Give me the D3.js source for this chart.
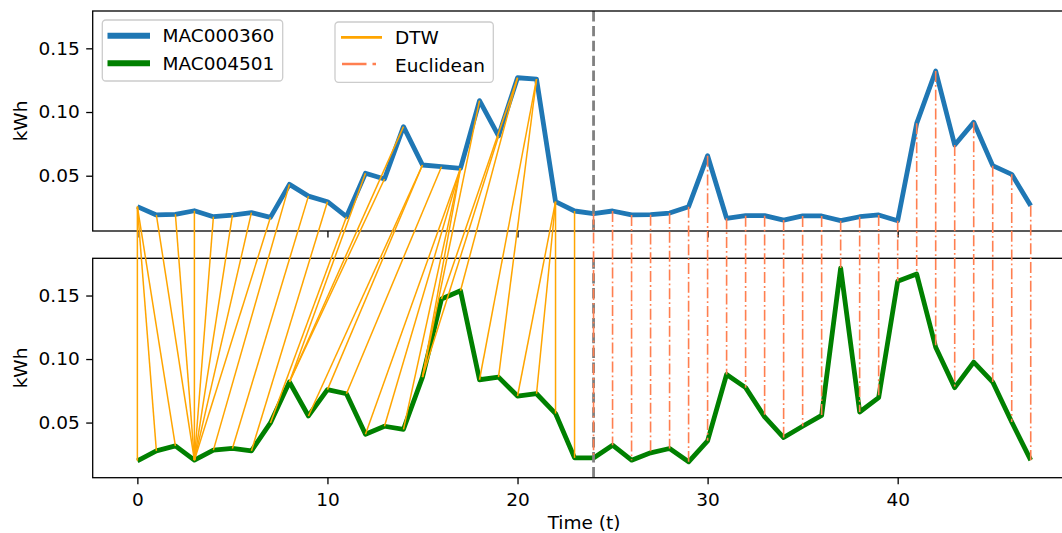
<!DOCTYPE html>
<html>
<head>
<meta charset="utf-8">
<script src="https://cdn.jsdelivr.net/npm/d3@7"></script>
<style>
  html, body { margin: 0; padding: 0; background: #fff; }
  svg { display: block; font-family: "DejaVu Sans", sans-serif; }
</style>
</head>
<body>
<svg id="chart" width="1062" height="533"></svg>
<script>
// ---- data ----
const timeIdx = [0,1,2,3,4,5,6,7,8,9,10,11,12,13,14,15,16,17,18,19,20,21,22,23,
                 24,25,26,27,28,29,30,31,32,33,34,35,36,37,38,39,40,41,42,43,44,45,46,47];
const seriesA = [0.0257,0.0192,0.0197,0.0225,0.0178,0.0190,0.0210,0.0173,0.0432,0.0340,
                 0.0296,0.0178,0.0519,0.0474,0.0885,0.0584,0.0571,0.0558,0.1089,0.0812,
                 0.1269,0.1259,0.0296,0.0223,0.0202,0.0223,0.0192,0.0194,0.0207,0.0257,
                 0.0657,0.0166,0.0186,0.0186,0.0152,0.0184,0.0184,0.0147,0.0178,0.0192,
                 0.0147,0.0911,0.1322,0.0741,0.0919,0.0579,0.0511,0.0265];
const seriesB = [0.0199,0.0277,0.0316,0.0204,0.0283,0.0296,0.0277,0.0497,0.0819,0.0552,
                 0.0759,0.0727,0.0408,0.0471,0.0447,0.0858,0.1473,0.1538,0.0837,0.0858,
                 0.0709,0.0727,0.0571,0.0222,0.0222,0.0322,0.0204,0.0262,0.0296,0.0191,
                 0.0356,0.0879,0.0775,0.0544,0.0382,0.0471,0.0557,0.1716,0.0583,0.0696,
                 0.1612,0.1669,0.1093,0.0775,0.0976,0.0819,0.0505,0.0204];
const nameA = "MAC000360";
const nameB = "MAC004501";
// DTW warping path (index in A, index in B) for the first 24 points
const dtwA = [0,0,0,1,2,3,4,5,6,7,8,9,10,11,12,13,14,15,15,16,17,17,17,17,18,19,20,20,21,21,22,22,22,23];
const dtwB = [0,1,2,3,3,3,3,3,3,3,4,5,6,7,8,8,8,9,10,11,12,13,14,15,15,15,16,17,18,19,20,21,22,23];
// Euclidean (one-to-one) matches after the split
const eucIdx = [24,25,26,27,28,29,30,31,32,33,34,35,36,37,38,39,40,41,42,43,44,45,46,47];
const splitT = 24;
const xTicks = [0,10,20,30,40];
const yTicks = [0.05,0.10,0.15];
const xLabel = "Time (t)";
const yLabel = "kWh";
const legendSeries = [nameA, nameB];
const legendMethods = ["DTW", "Euclidean"];

// ---- layout ----
const svg = d3.select("#chart");
const L = 92.7, R = 1075.4;
const topAx = {t: 11, b: 231};
const botAx = {t: 258.3, b: 477.7};
const FONT = 18.5;

const x = d3.scaleLinear().domain([-2.35, 49.35]).range([L, R]);
const yDom = [0.0066, 0.1793];
const yA = d3.scaleLinear().domain(yDom).range([topAx.b, topAx.t]);
const yB = d3.scaleLinear().domain(yDom).range([botAx.b, botAx.t]);

const blue = "#1f77b4", green = "#008000", orange = "#ffa500", coral = "#ff7f50";

function styleAxis(g) {
  g.select(".domain").remove();
  g.selectAll(".tick line").attr("stroke", "#000").attr("stroke-width", 1.3);
  g.selectAll(".tick text").attr("fill", "#000").attr("font-size", FONT)
    .attr("font-family", "DejaVu Sans, sans-serif");
}

// ---- top axes ----
const line = (ys, data) => d3.line().x((d, i) => x(timeIdx[i])).y(d => ys(d))(data);

svg.append("path").attr("d", line(yA, seriesA)).attr("fill", "none")
  .attr("stroke", blue).attr("stroke-width", 4.8).attr("stroke-linejoin", "round");
svg.append("line").attr("x1", x(splitT)).attr("x2", x(splitT))
  .attr("y1", topAx.t).attr("y2", topAx.b)
  .attr("stroke", "#808080").attr("stroke-width", 2.8).attr("stroke-dasharray", "10.4,4.5");

// ---- bottom axes ----
svg.append("path").attr("d", line(yB, seriesB)).attr("fill", "none")
  .attr("stroke", green).attr("stroke-width", 4.8).attr("stroke-linejoin", "round");
svg.append("line").attr("x1", x(splitT)).attr("x2", x(splitT))
  .attr("y1", botAx.t).attr("y2", botAx.b)
  .attr("stroke", "#808080").attr("stroke-width", 2.8).attr("stroke-dasharray", "10.4,4.5");

// spines
[topAx, botAx].forEach(a => {
  svg.append("rect").attr("x", L).attr("y", a.t).attr("width", R - L).attr("height", a.b - a.t)
    .attr("fill", "none").attr("stroke", "#000").attr("stroke-width", 1.3);
});

// axes ticks
svg.append("g").attr("transform", `translate(${L},0)`)
  .call(d3.axisLeft(yA).tickValues(yTicks).tickFormat(d3.format(".2f")).tickSize(6.5).tickPadding(6.5))
  .call(styleAxis);
svg.append("g").attr("transform", `translate(${L},0)`)
  .call(d3.axisLeft(yB).tickValues(yTicks).tickFormat(d3.format(".2f")).tickSize(6.5).tickPadding(6.5))
  .call(styleAxis);
svg.append("g").attr("transform", `translate(0,${topAx.b})`)
  .call(d3.axisBottom(x).tickValues(xTicks).tickFormat("").tickSize(6.5))
  .call(styleAxis);
svg.append("g").attr("transform", `translate(0,${botAx.b})`)
  .call(d3.axisBottom(x).tickValues(xTicks).tickFormat(d3.format("d")).tickSize(6.5).tickPadding(8.5))
  .call(styleAxis);

// axis labels
svg.append("text").attr("x", (L + R) / 2).attr("y", 529).attr("text-anchor", "middle")
  .attr("font-size", FONT).text(xLabel);
[topAx, botAx].forEach(a => {
  const cy = (a.t + a.b) / 2;
  svg.append("text").attr("transform", `translate(27,${cy}) rotate(-90)`)
    .attr("text-anchor", "middle").attr("font-size", FONT).text(yLabel);
});

// ---- connection lines (figure level, on top) ----
const conn = svg.append("g");
dtwA.forEach((ia, k) => {
  const ib = dtwB[k];
  conn.append("line")
    .attr("x1", x(timeIdx[ia])).attr("y1", yA(seriesA[ia]))
    .attr("x2", x(timeIdx[ib])).attr("y2", yB(seriesB[ib]))
    .attr("stroke", orange).attr("stroke-width", 1.5);
});
eucIdx.forEach(i => {
  conn.append("line")
    .attr("x1", x(timeIdx[i])).attr("y1", yA(seriesA[i]))
    .attr("x2", x(timeIdx[i])).attr("y2", yB(seriesB[i]))
    .attr("stroke", coral).attr("stroke-width", 1.6)
    .attr("stroke-dasharray", "11,3,1.8,3");
});

// ---- legends ----
function legendBox(x0, y0, w, h) {
  svg.append("rect").attr("x", x0).attr("y", y0).attr("width", w).attr("height", h)
    .attr("rx", 3.5).attr("fill", "#fff").attr("fill-opacity", 0.8)
    .attr("stroke", "#cccccc").attr("stroke-width", 1.3);
}
legendBox(102.3, 20, 180.4, 61);
[[blue, 35.7, 41.7], [green, 63.3, 69.5]].forEach((d, i) => {
  svg.append("line").attr("x1", 107.5).attr("x2", 150).attr("y1", d[1]).attr("y2", d[1])
    .attr("stroke", d[0]).attr("stroke-width", 6);
  svg.append("text").attr("x", 162.5).attr("y", d[2]).attr("font-size", FONT).text(legendSeries[i]);
});

legendBox(335, 22, 158.3, 60.3);
svg.append("line").attr("x1", 341).attr("x2", 382).attr("y1", 37.3).attr("y2", 37.3)
  .attr("stroke", orange).attr("stroke-width", 2.7);
svg.append("text").attr("x", 395).attr("y", 44).attr("font-size", FONT).text(legendMethods[0]);
svg.append("line").attr("x1", 342).attr("x2", 382).attr("y1", 64).attr("y2", 64)
  .attr("stroke", coral).attr("stroke-width", 2.7).attr("stroke-dasharray", "24.5,6,3.5,20");
svg.append("text").attr("x", 395).attr("y", 71.5).attr("font-size", FONT).text(legendMethods[1]);
</script>
</body>
</html>
